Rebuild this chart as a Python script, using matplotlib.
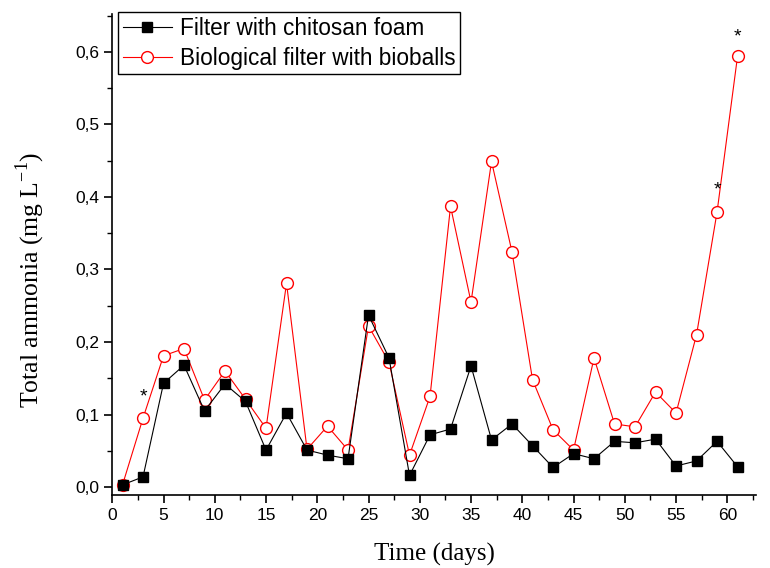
import matplotlib.pyplot as plt
from matplotlib.ticker import MultipleLocator, FuncFormatter

# Sampling days
days = [1, 3, 5, 7, 9, 11, 13, 15, 17, 19, 21, 23, 25, 27, 29, 31,
        33, 35, 37, 39, 41, 43, 45, 47, 49, 51, 53, 55, 57, 59, 61]

# Total ammonia (mg/L)
chitosan = [0.003, 0.014, 0.143, 0.168, 0.105, 0.142, 0.118, 0.051, 0.102, 0.051,
            0.044, 0.039, 0.237, 0.178, 0.016, 0.072, 0.080, 0.167, 0.065, 0.087,
            0.057, 0.027, 0.046, 0.039, 0.063, 0.061, 0.066, 0.029, 0.036, 0.063, 0.028]
bioballs = [0.003, 0.095, 0.181, 0.191, 0.120, 0.160, 0.121, 0.081, 0.281, 0.052,
            0.084, 0.051, 0.222, 0.172, 0.044, 0.125, 0.387, 0.255, 0.449, 0.324,
            0.148, 0.079, 0.051, 0.178, 0.087, 0.083, 0.131, 0.102, 0.210, 0.379, 0.594]

# significance marks
star_x = [3, 59, 61]
star_y = [0.124, 0.409, 0.621]

plt.rcParams['font.family'] = ['Liberation Sans', 'DejaVu Sans']

fig = plt.figure(figsize=(7.7, 5.68), dpi=100)
ax = fig.add_axes([0.1458, 0.1285, 0.836, 0.8465])

ax.plot(days, chitosan, color='black', lw=0.8, marker='s', ms=7.5,
        mfc='black', mec='black', label='Filter with chitosan foam', zorder=3)
ax.plot(days, bioballs, color='red', lw=0.8, marker='o', ms=8.5,
        mfc='white', mec='red', mew=1.0, label='Biological filter with bioballs', zorder=2)

for sx, sy in zip(star_x, star_y):
    ax.text(sx, sy, '*', ha='center', va='center', fontsize=14, color='black')

ax.set_xlim(0, 62.8)
ax.set_ylim(-0.011, 0.652)
ax.xaxis.set_major_locator(MultipleLocator(5))
ax.xaxis.set_minor_locator(MultipleLocator(2.5))
ax.yaxis.set_major_locator(MultipleLocator(0.1))
ax.yaxis.set_minor_locator(MultipleLocator(0.05))
ax.yaxis.set_major_formatter(FuncFormatter(lambda v, p: f'{v:.1f}'.replace('.', ',')))

ax.spines['top'].set_visible(False)
ax.spines['right'].set_visible(False)
ax.spines['left'].set_linewidth(1.2)
ax.spines['bottom'].set_linewidth(1.2)
ax.tick_params(which='major', direction='out', length=6, width=1.2, labelsize=12.5)
ax.tick_params(which='minor', direction='out', length=3.5, width=1.0)

ax.set_xlabel('Time (days)', family='Liberation Serif', fontsize=18, labelpad=14)
ax.set_ylabel('Total ammonia (mg L$^{\\mathregular{-1}}$)', family='Liberation Serif',
              fontsize=18.5)
ax.yaxis.set_label_coords(-0.102, 0.447)

leg = ax.legend(loc='upper left', bbox_to_anchor=(0.009, 1.004), borderaxespad=0,
                fontsize=16.3, frameon=True, fancybox=False, edgecolor='black',
                framealpha=1, handlelength=2.2, handletextpad=0.35,
                borderpad=0.2, labelspacing=0.3)
leg.get_frame().set_linewidth(1.0)

fig.savefig('out.png', dpi=100)
